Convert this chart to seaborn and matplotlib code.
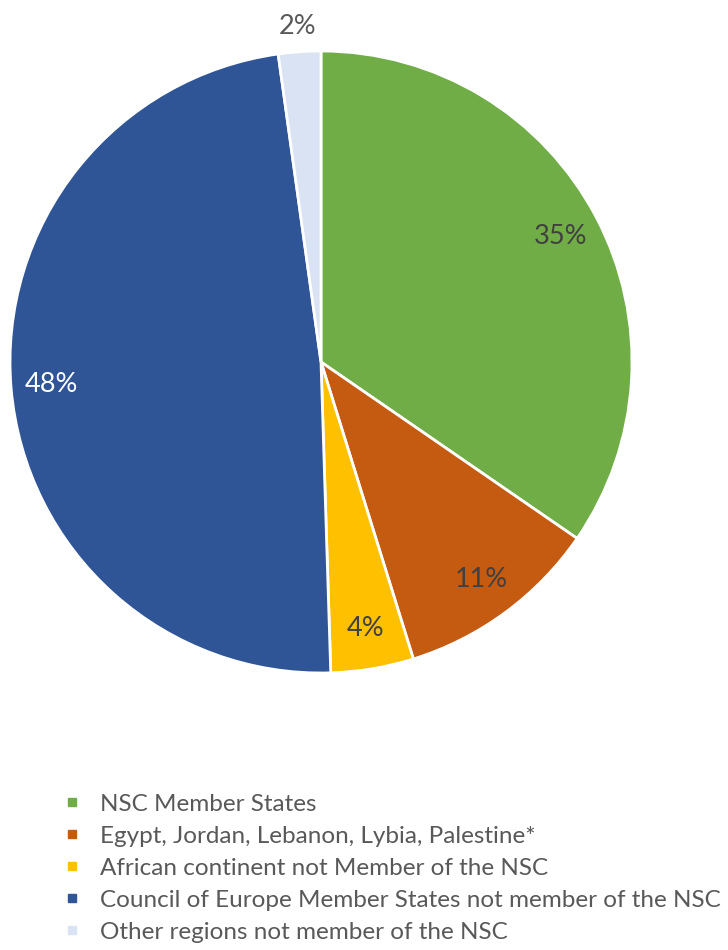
import matplotlib
matplotlib.use("Agg")
import matplotlib.pyplot as plt
import seaborn as sns
import numpy as np
from matplotlib.lines import Line2D

# Datos
categorias = [
    "NSC Member States",
    "Egypt, Jordan, Lebanon, Lybia, Palestine*",
    "African continent not Member of the NSC",
    "Council of Europe Member States not member of the NSC",
    "Other regions not member of the NSC",
]
valores = [34.6, 10.6, 4.3, 48.3, 2.2]
etiquetas = ["35%", "11%", "4%", "48%", "2%"]
colores = ["#70AD47", "#C55A11", "#FFC000", "#2F5597", "#DAE3F3"]
colores_texto = ["#404040", "#404040", "#404040", "#FFFFFF", "#595959"]

sns.set_theme(style="white")
plt.rcParams["font.family"] = ["Lato", "DejaVu Sans"]

fig = plt.figure(figsize=(7.28, 9.5), dpi=100)
ax = fig.add_axes([10 / 728, 277 / 950, 622 / 728, 622 / 950])

wedges, _ = ax.pie(
    valores,
    colors=colores,
    startangle=90,
    counterclock=False,
    wedgeprops={"edgecolor": "white", "linewidth": 2},
)
ax.set_xlim(-1, 1)
ax.set_ylim(-1, 1)
ax.set_aspect("equal")

# Etiquetas de porcentaje
for w, txt, col in zip(wedges, etiquetas, colores_texto):
    ang = np.deg2rad((w.theta1 + w.theta2) / 2)
    dist = 1.08 if txt == "2%" else 0.87
    ax.text(dist * np.cos(ang), dist * np.sin(ang), txt, ha="center", va="center",
            fontsize=19.5, color=col)

handles = [Line2D([0], [0], marker="s", linestyle="none", markersize=6,
                  markerfacecolor=c, markeredgecolor=c) for c in colores]
leg = fig.legend(handles, categorias, loc="upper left",
                 bbox_to_anchor=(53 / 728, 1 - 784 / 950), frameon=False,
                 fontsize=17.5, labelspacing=0.45, handlelength=0.8,
                 handletextpad=0.75, borderaxespad=0)
for t in leg.get_texts():
    t.set_color("#595959")

fig.savefig("out.png", dpi=100)
plt.close()
